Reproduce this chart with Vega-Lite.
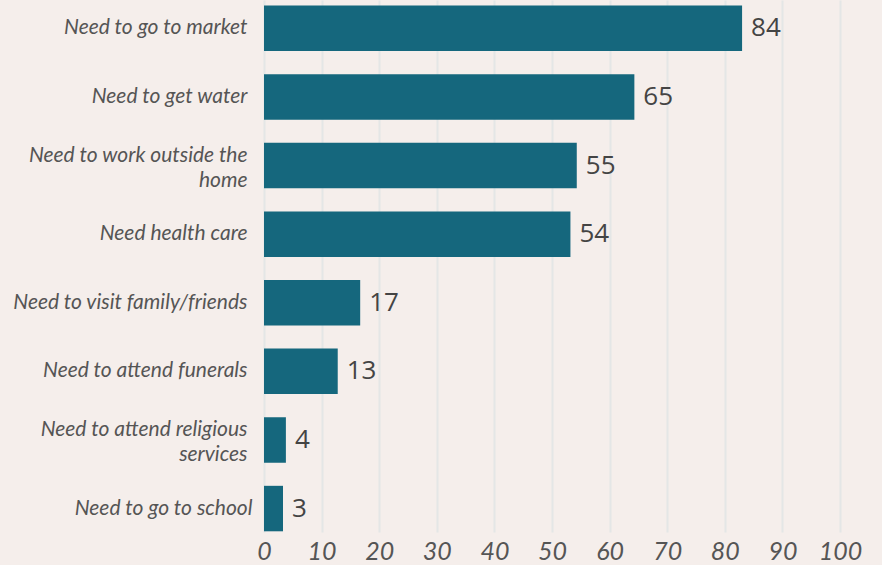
{
  "$schema": "https://vega.github.io/schema/vega-lite/v6.json",
  "autosize": "none",
  "width": 576,
  "height": 532,
  "padding": {"left": 264, "top": 0, "right": 42, "bottom": 33},
  "background": "#f5eeeb",
  "config": {"view": {"stroke": null}},
  "data": {"values": [
    {"reason": "Need to go to market", "value": 83, "label": "84"},
    {"reason": "Need to get water", "value": 64.3, "label": "65"},
    {"reason": "Need to work outside the|home", "value": 54.3, "label": "55"},
    {"reason": "Need health care", "value": 53.2, "label": "54"},
    {"reason": "Need to visit family/friends", "value": 16.7, "label": "17"},
    {"reason": "Need to attend funerals", "value": 12.8, "label": "13"},
    {"reason": "Need to attend religious|services", "value": 3.8, "label": "4"},
    {"reason": "Need to go to school", "value": 3.3, "label": "3"}
  ]},
  "encoding": {
    "y": {"field": "reason", "type": "nominal", "sort": null,
      "scale": {"paddingInner": 0.337, "paddingOuter": 0.046, "align": 0.89},
      "axis": {"title": null, "domain": false, "ticks": false,
        "labelPadding": {"condition": {"test": "datum.value === 'Need to go to school'", "value": 12}, "value": 17},
        "labelOffset": {"condition": {"test": "indexof(datum.value, '|') >= 0", "value": -10}, "value": 0},
        "labelExpr": "split(datum.value, '|')",
        "labelFont": "Lato", "labelFontStyle": "italic", "labelFontSize": 21,
        "labelColor": "#555555", "labelLineHeight": 25, "labelLimit": 300}},
    "x": {"field": "value", "type": "quantitative",
      "scale": {"domain": [0, 100], "nice": false},
      "axis": {"title": null, "values": [0,10,20,30,40,50,60,70,80,90,100],
        "domain": false, "ticks": false, "grid": true, "gridColor": "#e4e6e6", "gridWidth": 2,
        "labelFont": "Lato", "labelFontStyle": "italic", "labelFontSize": 25,
        "labelColor": "#555555", "labelPadding": 7, "labelFlush": false}}
  },
  "layer": [
    {"mark": {"type": "bar", "color": "#15677d"}},
    {"mark": {"type": "text", "align": "left", "dx": 9, "font": "Open Sans", "fontSize": 26, "color": "#444444"},
     "encoding": {"text": {"field": "label", "type": "nominal"}}}
  ]
}
